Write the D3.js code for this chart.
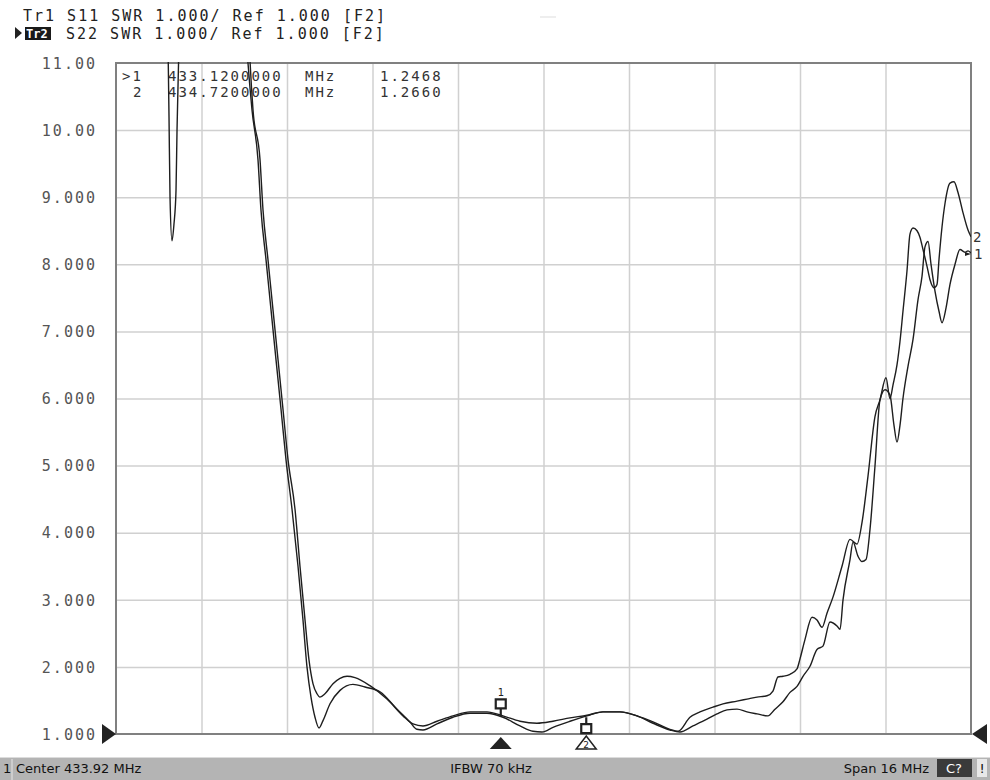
<!DOCTYPE html>
<html lang="en">
<head>
<meta charset="UTF-8">
<title>SWR S11 / S22</title>
<script src="https://cdn.jsdelivr.net/npm/d3@7"></script>
<style>
  body { margin: 0; background: #fff; }
  svg { display: block; }
  .mono { font-family: "DejaVu Sans Mono", monospace; font-size: 15px; letter-spacing: 2px; fill: #333; }
  .bar { font-family: "DejaVu Sans", sans-serif; font-size: 13px; fill: #111; }
</style>
</head>
<body>
<svg width="990" height="780"></svg>
<script>
// sweep settings (MHz)
const centerMHz = 433.92;
const spanMHz = 16;
const xDivisions = 10;

// y axis (SWR)
const yTicks = [1, 2, 3, 4, 5, 6, 7, 8, 9, 10, 11];
const yTickLabels = ["1.000", "2.000", "3.000", "4.000", "5.000", "6.000", "7.000", "8.000", "9.000", "10.00", "11.00"];

// Tr1 S11 : [MHz, SWR]  (values above 11 are off screen)
const s11 = [
  [425.92, 14], [426.74, 14], [426.856, 13], [426.893, 11.3], [426.912, 10.2], [426.931, 9.0],
  [426.968, 8.35], [427.005, 8.6], [427.043, 9.1], [427.062, 10.0], [427.099, 11.3], [427.136, 13],
  [427.49, 15], [428.24, 13], [428.39, 11.0], [428.465, 10.3], [428.577, 9.56], [428.633, 8.81],
  [428.727, 8.07], [428.821, 7.32], [428.914, 6.58], [429.008, 5.84], [429.101, 5.09], [429.214, 4.35],
  [429.326, 3.5], [429.419, 2.7], [429.494, 2.0], [429.569, 1.55], [429.644, 1.25], [429.719, 1.09],
  [429.794, 1.2], [429.925, 1.45], [430.112, 1.65], [430.355, 1.74], [430.58, 1.7], [430.86, 1.63],
  [431.18, 1.37], [431.42, 1.18], [431.55, 1.07], [431.665, 1.06], [431.927, 1.15], [432.226, 1.25],
  [432.545, 1.31], [432.862, 1.31], [433.162, 1.25], [433.48, 1.12], [433.723, 1.04], [433.892, 1.03],
  [434.098, 1.10], [434.416, 1.19], [434.734, 1.27], [435.033, 1.33], [435.351, 1.33], [435.67, 1.27],
  [435.969, 1.16], [436.287, 1.06], [436.474, 1.03], [436.717, 1.12], [436.979, 1.22], [437.166, 1.30],
  [437.354, 1.36], [437.541, 1.37], [437.728, 1.33], [437.915, 1.30], [438.12, 1.27], [438.252, 1.37],
  [438.401, 1.48], [438.533, 1.62], [438.664, 1.71], [438.776, 1.86], [438.907, 2.01], [439.038, 2.26],
  [439.15, 2.31], [439.281, 2.67], [439.412, 2.61], [439.469, 2.56], [439.525, 3.0], [439.656, 3.6],
  [439.712, 3.86], [439.805, 3.65], [439.88, 3.57], [439.955, 3.6], [440.03, 4.05], [440.123, 4.99],
  [440.217, 5.98], [440.31, 6.13], [440.404, 6.05], [440.479, 5.6], [440.535, 5.35], [440.591, 5.6],
  [440.647, 6.0], [440.741, 6.48], [440.835, 6.88], [440.928, 7.47], [441.003, 7.82], [441.059, 8.26],
  [441.116, 8.34], [441.172, 8.0], [441.246, 7.6], [441.321, 7.3], [441.378, 7.13], [441.453, 7.35],
  [441.527, 7.7], [441.621, 8.0], [441.714, 8.22], [441.808, 8.18], [441.864, 8.2], [441.92, 8.17]
];

// Tr2 S22 : [MHz, SWR]
const s22 = [
  [425.92, 14], [427.49, 15], [428.334, 13], [428.43, 11.0], [428.484, 10.3], [428.615, 9.56],
  [428.671, 8.81], [428.764, 8.07], [428.858, 7.32], [428.952, 6.58], [429.045, 5.84], [429.139, 5.09],
  [429.27, 4.35], [429.363, 3.5], [429.457, 2.7], [429.532, 2.1], [429.606, 1.75], [429.681, 1.6],
  [429.737, 1.55], [429.831, 1.6], [429.981, 1.75], [430.112, 1.83], [430.243, 1.86], [430.393, 1.84],
  [430.673, 1.72], [430.991, 1.52], [431.291, 1.27], [431.478, 1.15], [431.665, 1.12], [431.927, 1.19],
  [432.226, 1.27], [432.545, 1.33], [432.862, 1.33], [433.162, 1.27], [433.48, 1.19], [433.798, 1.16],
  [434.098, 1.19], [434.416, 1.24], [434.734, 1.28], [435.033, 1.33], [435.351, 1.33], [435.67, 1.27],
  [435.969, 1.18], [436.287, 1.07], [436.437, 1.04], [436.661, 1.25], [436.848, 1.33], [437.092, 1.40],
  [437.279, 1.45], [437.541, 1.49], [437.728, 1.52], [437.915, 1.55], [438.102, 1.57], [438.214, 1.64],
  [438.308, 1.85], [438.401, 1.86], [438.533, 1.89], [438.664, 1.97], [438.72, 2.12], [438.814, 2.41],
  [438.945, 2.74], [439.038, 2.7], [439.132, 2.59], [439.225, 2.8], [439.337, 3.04], [439.506, 3.5],
  [439.656, 3.9], [439.787, 3.83], [439.88, 4.15], [439.992, 4.84], [440.123, 5.73], [440.217, 5.98],
  [440.329, 6.31], [440.404, 6.0], [440.46, 6.2], [440.535, 6.5], [440.591, 6.85], [440.647, 7.3],
  [440.722, 7.9], [440.778, 8.45], [440.835, 8.54], [440.91, 8.5], [440.966, 8.4], [441.022, 8.22],
  [441.097, 7.97], [441.153, 7.77], [441.228, 7.65], [441.284, 7.7], [441.321, 8.07], [441.378, 8.56],
  [441.434, 8.91], [441.527, 9.21], [441.602, 9.23], [441.677, 9.07], [441.77, 8.77], [441.864, 8.51],
  [441.92, 8.41]
];

// markers
const markerIds = [1, 2];
const markerFreqs = [433.12, 434.72];
const markerValues = [1.2468, 1.2660];

// header lines
const headerLines = ["Tr1 S11 SWR 1.000/ Ref 1.000 [F2]", "S22 SWR 1.000/ Ref 1.000 [F2]"];

const svg = d3.select("svg");
const plot = { left: 116, right: 971, top: 63, bottom: 734 };

const x = d3.scaleLinear()
  .domain([centerMHz - spanMHz / 2, centerMHz + spanMHz / 2])
  .range([plot.left, plot.right]);
const y = d3.scaleLinear()
  .domain([1, 11])
  .range([plot.bottom, plot.top]);

// header
svg.append("text").attr("class", "mono").attr("x", 23).attr("y", 21).style("fill", "#222").text(headerLines[0]);
svg.append("path").attr("d", "M15,27 L22,33 L15,39 Z").attr("fill", "#222");
svg.append("rect").attr("x", 25).attr("y", 27).attr("width", 26).attr("height", 13).attr("fill", "#1a1a1a");
svg.append("text").attr("class", "mono").attr("x", 26).attr("y", 38)
  .style("letter-spacing", "0px").style("font-size", "12px").style("font-weight", "bold")
  .style("fill", "#fff").text("Tr2");
svg.append("text").attr("class", "mono").attr("x", 66).attr("y", 39).style("fill", "#222").text(headerLines[1]);
svg.append("line").attr("x1", 540).attr("x2", 556).attr("y1", 17).attr("y2", 17).attr("stroke", "#ddd");

// grid
svg.append("g")
  .attr("transform", `translate(0,${plot.bottom})`)
  .call(d3.axisBottom(x).tickValues(d3.range(1, xDivisions).map(i => x.domain()[0] + i * spanMHz / xDivisions))
    .tickSize(-(plot.bottom - plot.top)).tickFormat(""))
  .call(g => g.select(".domain").remove())
  .call(g => g.selectAll("line").attr("stroke", "#d0d0d0").attr("stroke-width", 1.5));

svg.append("g")
  .attr("transform", `translate(${plot.left},0)`)
  .call(d3.axisLeft(y).tickValues(yTicks).tickSize(-(plot.right - plot.left))
    .tickFormat((d, i) => yTickLabels[i]))
  .call(g => g.select(".domain").remove())
  .call(g => g.selectAll("line").attr("stroke", d => (d === 1 || d === 11) ? "none" : "#d0d0d0").attr("stroke-width", 1.5))
  .call(g => g.selectAll("text").attr("class", "mono").attr("font-size", null).attr("font-family", null)
    .attr("fill", null).style("fill", "#555").attr("x", -19).attr("dy", "0.35em"));

// border
svg.append("rect")
  .attr("x", plot.left).attr("y", plot.top)
  .attr("width", plot.right - plot.left).attr("height", plot.bottom - plot.top)
  .attr("fill", "none").attr("stroke", "#808080").attr("stroke-width", 2);

// marker readout
const readout = svg.append("g").style("font-size", "14px");
markerIds.forEach((id, i) => {
  const by = 81 + i * 16;
  readout.append("text").attr("class", "mono").style("font-size", "14px").attr("x", i === 0 ? 122 : 133).attr("y", by).text(i === 0 ? ">" + id : "" + id);
  readout.append("text").attr("class", "mono").style("font-size", "14px").attr("x", 168).attr("y", by).text(markerFreqs[i].toFixed(7));
  readout.append("text").attr("class", "mono").style("font-size", "14px").attr("x", 305).attr("y", by).text("MHz");
  readout.append("text").attr("class", "mono").style("font-size", "14px").attr("x", 380).attr("y", by).text(markerValues[i].toFixed(4));
});

// traces
svg.append("clipPath").attr("id", "clip")
  .append("rect").attr("x", plot.left).attr("y", plot.top - 1)
  .attr("width", plot.right - plot.left).attr("height", plot.bottom - plot.top + 1);

const line = d3.line().x(d => x(d[0])).y(d => y(d[1])).curve(d3.curveMonotoneX);
const traces = svg.append("g").attr("clip-path", "url(#clip)");
[s11, s22].forEach(data => {
  traces.append("path").datum(data).attr("d", line)
    .attr("fill", "none").attr("stroke", "#1e1e1e").attr("stroke-width", 1.4);
});

// trace end labels
svg.append("text").attr("class", "mono").style("letter-spacing", "0px").style("font-size", "14px")
  .attr("x", 973).attr("y", y(s22[s22.length - 1][1]) + 5).text("2");
svg.append("text").attr("class", "mono").style("letter-spacing", "0px").style("font-size", "14px")
  .attr("x", 974).attr("y", y(s11[s11.length - 1][1]) + 6).text("1");
svg.append("path")
  .attr("d", `M${plot.right - 6},${y(s11[s11.length - 1][1]) - 1} l6,2 l-6,2 Z`).attr("fill", "#222");

// marker 1 symbol (above trace)
const m1x = x(markerFreqs[0]), m1y = y(markerValues[0]);
svg.append("path")
  .attr("d", `M${m1x},${m1y - 1} L${m1x},${m1y - 9} M${m1x - 5},${m1y - 9} L${m1x + 5},${m1y - 9} L${m1x + 5},${m1y - 18} L${m1x - 5},${m1y - 18} Z`)
  .attr("fill", "#fff").attr("stroke", "#222").attr("stroke-width", 2.2);
svg.append("text").attr("x", m1x - 3).attr("y", m1y - 21)
  .attr("font-family", "DejaVu Sans").attr("font-size", 10).attr("fill", "#222").text(markerIds[0]);

// marker 2 symbol (below trace)
const m2x = x(markerFreqs[1]), m2y = y(markerValues[1]);
svg.append("path")
  .attr("d", `M${m2x},${m2y + 1} L${m2x},${m2y + 8} M${m2x - 5},${m2y + 8} L${m2x + 5},${m2y + 8} L${m2x + 5},${m2y + 17} L${m2x - 5},${m2y + 17} Z`)
  .attr("fill", "#fff").attr("stroke", "#222").attr("stroke-width", 2.2);

// marker triangles on the frequency axis
svg.append("path")
  .attr("d", `M${m1x - 11},${plot.bottom + 15} L${m1x},${plot.bottom + 3} L${m1x + 11},${plot.bottom + 15} Z`)
  .attr("fill", "#222");
svg.append("path")
  .attr("d", `M${m2x - 10},${plot.bottom + 15} L${m2x},${plot.bottom + 2} L${m2x + 10},${plot.bottom + 15} Z`)
  .attr("fill", "#fff").attr("stroke", "#222").attr("stroke-width", 1.5);
svg.append("text").attr("x", m2x - 3).attr("y", plot.bottom + 14)
  .attr("font-family", "DejaVu Sans").attr("font-size", 9).attr("fill", "#222").text(markerIds[1]);

// reference level triangles
svg.append("path").attr("d", `M${plot.left - 14},${y(1) - 10} L${plot.left},${y(1)} L${plot.left - 14},${y(1) + 10} Z`).attr("fill", "#222");
svg.append("path").attr("d", `M${plot.right + 16},${y(1) - 10} L${plot.right + 1},${y(1)} L${plot.right + 16},${y(1) + 10} Z`).attr("fill", "#222");

// status bar
const bar = svg.append("g").attr("transform", "translate(0,757)");
bar.append("rect").attr("width", 990).attr("height", 23).attr("fill", "#b4b4b4");
bar.append("line").attr("x1", 0).attr("x2", 990).attr("y1", 0.5).attr("y2", 0.5).attr("stroke", "#dcdcdc");
bar.append("line").attr("x1", 12).attr("x2", 12).attr("y1", 2).attr("y2", 23).attr("stroke", "#e6e6e6");
bar.append("text").attr("class", "bar").attr("x", 3).attr("y", 16).text("1");
bar.append("text").attr("class", "bar").attr("x", 16).attr("y", 16).text("Center 433.92 MHz");
bar.append("text").attr("class", "bar").attr("x", 491).attr("y", 16).attr("text-anchor", "middle").text("IFBW 70 kHz");
bar.append("text").attr("class", "bar").attr("x", 929).attr("y", 16).attr("text-anchor", "end").text("Span 16 MHz");
bar.append("rect").attr("x", 937).attr("y", 2).attr("width", 35).attr("height", 18).attr("fill", "#3a3a3a");
bar.append("text").attr("class", "bar").attr("x", 954).attr("y", 16).attr("text-anchor", "middle").style("fill", "#fff").text("C?");
bar.append("rect").attr("x", 977).attr("y", 2).attr("width", 10).attr("height", 18).attr("fill", "#e8e8e8");
bar.append("text").attr("class", "bar").attr("x", 982).attr("y", 16).attr("text-anchor", "middle").text("!");
</script>
</body>
</html>
